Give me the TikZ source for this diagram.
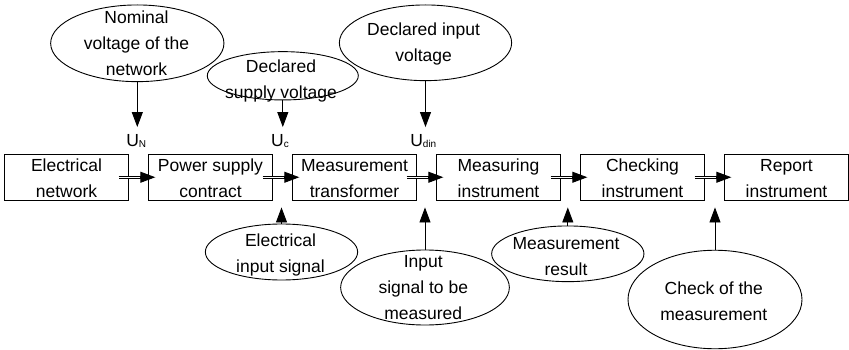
\documentclass[tikz,border=0pt]{standalone}
\usepackage{fontspec}
\setmainfont{Liberation Sans}
\usetikzlibrary{arrows.meta,shapes.geometric,calc}
\newcommand\fstrut{\rule{0pt}{15pt}}
\newcommand\lstrut{\rule[-5pt]{0pt}{5pt}}
\newcommand\bstrut{\rule{0pt}{16.4pt}}
\newcommand\blaststrut{\rule[-1pt]{0pt}{1pt}}
\newcommand\lsub[1]{{\fontsize{10}{12}\selectfont\raisebox{-1pt}{#1}}}
\begin{document}
\begin{tikzpicture}[x=1pt,y=-1pt, line width=0.9pt,
  every node/.style={font=\fontsize{17.5}{26}\selectfont},
  box/.style={draw, rectangle, minimum width=123.5pt, minimum height=46.5pt, inner sep=0pt, align=center},
  ell/.style={draw, ellipse, inner sep=0pt},
  txt/.style={inner sep=0pt, align=center},
  lab/.style={anchor=base, inner xsep=0pt, inner ysep=6.3pt, text height=12.5pt, text depth=0pt},
  arr/.style={-{Triangle[length=15pt,width=11pt]}},
  dbl/.style={double, double distance=1.4pt, line width=0.8pt}]
\useasboundingbox (0,0) rectangle (849,350);

% main chain
\node[box] (n1) at (66.5,177.25)  {Electrical\bstrut\\network\blaststrut};
\node[box] (n2) at (210.5,177.25) {Power supply\bstrut\\contract\blaststrut};
\node[box] (n3) at (354.5,177.25) {Measurement\bstrut\\transformer\blaststrut};
\node[box] (n4) at (498.5,177.25) {Measuring\bstrut\\instrument\blaststrut};
\node[box] (n5) at (642.5,177.25) {Checking\bstrut\\instrument\blaststrut};
\node[box] (n6) at (786.5,177.25) {Report\bstrut\\instrument\blaststrut};

% ellipses
\node[ell, minimum width=173.3pt, minimum height=76.7pt] (e1) at (137.3,43.3) {};
\node[txt] (t1) at (136.5,44.3) {\fstrut Nominal\\voltage of the\\network\lstrut};
\node[ell, minimum width=151pt, minimum height=48.3pt] (e2) at (282.8,75.8) {};
\node[txt] (t2) at (281,80.7) {\fstrut Declared\\supply voltage\lstrut};
\node[ell, minimum width=172.3pt, minimum height=75.7pt] (e3) at (425.5,42.8) {};
\node[txt] (t3) at (423.6,44) {\fstrut Declared input\\voltage\lstrut};
\node[ell, minimum width=152.3pt, minimum height=56pt] (e4) at (281.5,252) {};
\node[txt] (t4) at (280.5,254) {\fstrut Electrical\\input signal\lstrut};
\node[ell, minimum width=168.7pt, minimum height=75pt] (e5) at (425,287.5) {};
\node[txt] (t5) at (423.3,288.7) {\fstrut Input\\signal to be\\measured\lstrut};
\node[ell, minimum width=152.3pt, minimum height=55.7pt] (e6) at (567.8,253.8) {};
\node[txt] (t6) at (566,257.3) {\fstrut Measurement\\result\lstrut};
\node[ell, minimum width=174pt, minimum height=98.5pt] (e7) at (715,299.5) {};
\node[txt] (t7) at (713.8,302) {\fstrut Check of the\\measurement\lstrut};

% voltage labels
\node[lab] (uN) at (136.2,146.3) {U\lsub{N}};
\node[lab] (uc) at (280,146.3) {U\lsub{c}};
\node[lab] (ud) at (423.3,146.3) {U\lsub{din}};

% down arrows
\draw[arr] (e1.south) -- (e1.south |- uN.north);
\draw[arr] (e2.south) -- (e2.south |- uc.north);
\draw[arr] (e3.south) -- (e3.south |- ud.north);

% up arrows
\draw[arr, shorten >=6.5pt] (e4.north) -- (e4.north |- n2.south);
\draw[arr, shorten >=6.5pt] (e5.north) -- (e5.north |- n3.south);
\draw[arr, shorten >=6.5pt] (e6.north) -- (e6.north |- n4.south);
\draw[arr, shorten >=6.5pt] (e7.north) -- (e7.north |- n5.south);

% double arrows along the chain
\draw[dbl] ($(n1.east)+(-10,0)$) -- ($(n2.west)+(-7,0)$);
\draw[arr] ($(n2.west)+(-8.5,0)$) -- ($(n2.west)+(7,0)$);
\draw[dbl] ($(n2.east)+(-10,0)$) -- ($(n3.west)+(-7,0)$);
\draw[arr] ($(n3.west)+(-8.5,0)$) -- ($(n3.west)+(7,0)$);
\draw[dbl] ($(n3.east)+(-10,0)$) -- ($(n4.west)+(-7,0)$);
\draw[arr] ($(n4.west)+(-8.5,0)$) -- ($(n4.west)+(7,0)$);
\draw[dbl] ($(n4.east)+(-10,0)$) -- ($(n5.west)+(-7,0)$);
\draw[arr] ($(n5.west)+(-8.5,0)$) -- ($(n5.west)+(7,0)$);
\draw[dbl] ($(n5.east)+(-10,0)$) -- ($(n6.west)+(-7,0)$);
\draw[arr] ($(n6.west)+(-8.5,0)$) -- ($(n6.west)+(7,0)$);
\end{tikzpicture}
\end{document}
